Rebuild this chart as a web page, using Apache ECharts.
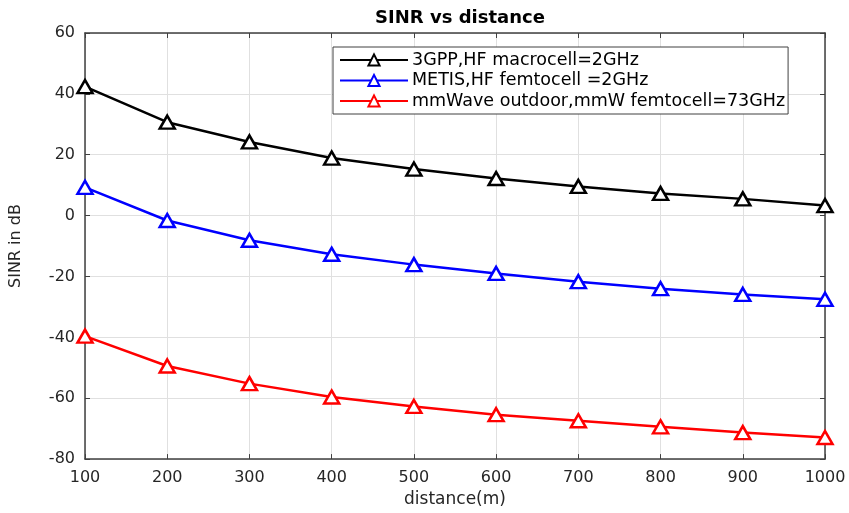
<!DOCTYPE html>
<html>
<head>
<meta charset="utf-8">
<script src="https://cdn.jsdelivr.net/npm/echarts@6/dist/echarts.min.js"></script>
<style>
  html, body { margin: 0; padding: 0; background: #fff; }
  #container { width: 849px; height: 513px; }
</style>
</head>
<body>
<div id="container"></div>
<script>
var distances = [100, 200, 300, 400, 500, 600, 700, 800, 900, 1000];
var seriesNames = [
    '3GPP,HF macrocell=2GHz',
    'METIS,HF femtocell =2GHz',
    'mmWave outdoor,mmW femtocell=73GHz'
];
var seriesColors = ['#000000', '#0000ff', '#ff0000'];
var macro3gpp = [42.4, 30.7, 24.2, 18.9, 15.3, 12.2, 9.6, 7.3, 5.5, 3.3];
var metisFemto = [9.3, -1.6, -8.1, -12.7, -16.1, -19.0, -21.7, -24.0, -25.9, -27.5];
var mmwFemto = [-39.6, -49.4, -55.2, -59.6, -62.7, -65.4, -67.4, -69.4, -71.3, -72.9];
var allValues = [macro3gpp, metisFemto, mmwFemto];

var font = 'DejaVu Sans, sans-serif';
var axisColor = '#404040';
var labelColor = '#262626';

function pairs(values) {
    return distances.map(function (d, i) { return [d, values[i]]; });
}

var chart = echarts.init(document.getElementById('container'));

var series = allValues.map(function (vals, k) {
    return {
        name: seriesNames[k],
        type: 'line',
        data: pairs(vals),
        symbol: 'triangle',
        symbolSize: [15, 13],
        showAllSymbol: true,
        lineStyle: { color: seriesColors[k], width: 2.5 },
        itemStyle: { color: '#ffffff', borderColor: seriesColors[k], borderWidth: 2.5 },
        emphasis: { disabled: true },
        z: 3 + k
    };
});

function tickStyle() {
    return { show: true, inside: true, length: 5, lineStyle: { color: axisColor } };
}
function lineStyle() {
    return { show: true, onZero: false, lineStyle: { color: axisColor, width: 1.5 } };
}

chart.setOption({
    animation: false,
    title: {
        text: 'SINR vs distance',
        left: 455,
        textAlign: 'center',
        top: 4,
        textStyle: { fontFamily: font, fontWeight: 'bold', fontSize: 18, color: '#000' }
    },
    legend: {
        orient: 'vertical',
        left: 333,
        top: 47,
        padding: [3, 3, 3, 6],
        itemGap: 0.5,
        itemWidth: 68,
        itemHeight: 14,
        backgroundColor: '#fff',
        borderColor: axisColor,
        borderWidth: 1,
        textStyle: { fontFamily: font, fontSize: 17.5, lineHeight: 20, color: '#000', padding: [0, 0, 0, -1] },
        data: seriesNames
    },
    grid: { left: 85, right: 24, top: 33, bottom: 53, show: false },
    xAxis: [{
        type: 'value',
        min: 100,
        max: 1000,
        interval: 100,
        name: 'distance(m)',
        nameLocation: 'middle',
        nameGap: 29,
        nameTextStyle: { fontFamily: font, fontSize: 17, color: labelColor },
        axisLine: lineStyle(),
        axisTick: tickStyle(),
        axisLabel: { fontFamily: font, fontSize: 16, color: labelColor, margin: 11, formatter: function (v) { return String(v); } },
        splitLine: { show: true, lineStyle: { color: '#e0e0e0', width: 1 } }
    }, {
        type: 'value',
        position: 'top',
        min: 100,
        max: 1000,
        interval: 100,
        axisLine: lineStyle(),
        axisTick: tickStyle(),
        axisLabel: { show: false },
        splitLine: { show: false }
    }],
    yAxis: [{
        type: 'value',
        min: -80,
        max: 60,
        interval: 20,
        name: 'SINR in dB',
        nameLocation: 'middle',
        nameGap: 61,
        nameTextStyle: { fontFamily: font, fontSize: 16, color: labelColor },
        axisLine: lineStyle(),
        axisTick: tickStyle(),
        axisLabel: { fontFamily: font, fontSize: 16, color: labelColor, margin: 10 },
        splitLine: { show: true, lineStyle: { color: '#e0e0e0', width: 1 } }
    }, {
        type: 'value',
        position: 'right',
        min: -80,
        max: 60,
        interval: 20,
        axisLine: lineStyle(),
        axisTick: tickStyle(),
        axisLabel: { show: false },
        splitLine: { show: false }
    }],
    series: series
});
</script>
</body>
</html>
